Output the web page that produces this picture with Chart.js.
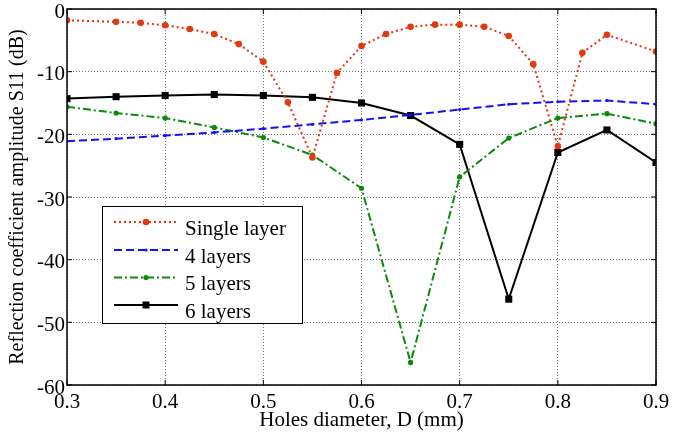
<!DOCTYPE html>
<html>
<head>
<meta charset="utf-8">
<script src="https://cdn.jsdelivr.net/npm/chart.js@4"></script>
<style>
  html, body { margin: 0; padding: 0; background: #fff; }
  #wrap { width: 673px; height: 439px; }
</style>
</head>
<body>
<div id="wrap"><canvas id="grafico" width="673" height="439"></canvas></div>
<script>
// ----------- DATOS -----------
const xSingle = [0.3, 0.35, 0.375, 0.4, 0.425, 0.45, 0.475, 0.5, 0.525, 0.55, 0.575, 0.6,
                 0.625, 0.65, 0.675, 0.7, 0.725, 0.75, 0.775, 0.8, 0.825, 0.85, 0.9];
const ySingle = [-1.8, -2.05, -2.2, -2.6, -3.2, -4.0, -5.6, -8.4, -14.9, -23.7, -10.2, -5.9,
                 -4.0, -2.85, -2.5, -2.5, -2.85, -4.3, -8.8, -21.9, -7.0, -4.1, -6.8];

const xLayers = [0.3, 0.35, 0.4, 0.45, 0.5, 0.55, 0.6, 0.65, 0.7, 0.75, 0.8, 0.85, 0.9];
const y4 = [-21.1, -20.7, -20.2, -19.7, -19.1, -18.4, -17.7, -16.9, -16.05, -15.2, -14.8, -14.6, -15.2];
const y5 = [-15.6, -16.6, -17.4, -18.9, -20.5, -23.3, -28.6, -56.4, -26.8, -20.6, -17.4, -16.7, -18.3];
const y6 = [-14.3, -14.0, -13.8, -13.65, -13.8, -14.1, -15.0, -17.0, -21.6, -46.3, -22.9, -19.3, -24.5];

const etiquetas = ["Single layer", "4 layers", "5 layers", "6 layers"];
const xTicks = [0.3, 0.4, 0.5, 0.6, 0.7, 0.8, 0.9];
const yTicks = [0, -10, -20, -30, -40, -50, -60];

const fuente = "'Liberation Serif', 'Times New Roman', serif";

const puntos = (xs, ys) => xs.map((x, i) => ({ x: x, y: ys[i] }));

// ----------- MARCO + LEYENDA -----------
const marco = {
    id: "marco",
    afterDraw(chart) {
        const ctx = chart.ctx;
        const a = chart.chartArea;
        const sx = chart.scales.x, sy = chart.scales.y;
        ctx.save();
        ctx.strokeStyle = "#000";
        ctx.lineWidth = 1.5;
        ctx.setLineDash([]);
        ctx.strokeRect(a.left, a.top, a.right - a.left, a.bottom - a.top);
        // marcas hacia dentro
        ctx.lineWidth = 1;
        ctx.beginPath();
        xTicks.forEach(v => {
            const px = sx.getPixelForValue(v);
            ctx.moveTo(px, a.bottom); ctx.lineTo(px, a.bottom - 5);
            ctx.moveTo(px, a.top); ctx.lineTo(px, a.top + 5);
        });
        yTicks.forEach(v => {
            const py = sy.getPixelForValue(v);
            ctx.moveTo(a.left, py); ctx.lineTo(a.left + 5, py);
            ctx.moveTo(a.right, py); ctx.lineTo(a.right - 5, py);
        });
        ctx.stroke();

        // leyenda
        const bx = 102, by = 206, bw = 200, bh = 117;
        ctx.fillStyle = "#fff";
        ctx.fillRect(bx, by, bw, bh);
        ctx.lineWidth = 1;
        ctx.strokeStyle = "#000";
        ctx.strokeRect(bx + 0.5, by + 0.5, bw, bh);
        const filas = [222, 250, 277.5, 305];
        chart.data.datasets.forEach((ds, i) => {
            const yy = filas[i];
            ctx.save();
            ctx.strokeStyle = ds.borderColor;
            ctx.lineWidth = ds.borderWidth;
            ctx.setLineDash(ds.borderDash || []);
            ctx.beginPath();
            ctx.moveTo(114, yy); ctx.lineTo(178, yy);
            ctx.stroke();
            ctx.setLineDash([]);
            ctx.fillStyle = ds.pointBackgroundColor;
            if (ds.pointStyle === "rect") {
                ctx.fillRect(146 - 3.5, yy - 3.5, 7, 7);
            } else {
                ctx.beginPath();
                ctx.arc(146, yy, ds.pointRadius, 0, Math.PI * 2);
                ctx.fill();
            }
            ctx.restore();
            ctx.fillStyle = "#000";
            ctx.font = "21px " + fuente;
            ctx.textBaseline = "alphabetic";
            ctx.fillText(etiquetas[i], 185, yy + 12.5);
        });
        ctx.restore();
    }
};

new Chart(document.getElementById("grafico"), {
    type: "line",
    data: {
        datasets: [
            {
                label: etiquetas[0],
                data: puntos(xSingle, ySingle),
                borderColor: "#e8300f",
                borderWidth: 2,
                borderDash: [2, 3],
                pointRadius: 3.3,
                pointBorderWidth: 0,
                pointBackgroundColor: "#e03a12",
                pointStyle: "circle"
            },
            {
                label: etiquetas[1],
                data: puntos(xLayers, y4),
                borderColor: "#1010ff",
                borderWidth: 2,
                borderDash: [8, 4],
                pointRadius: 1.6,
                pointBorderWidth: 0,
                pointBackgroundColor: "#1010ff",
                pointStyle: "circle"
            },
            {
                label: etiquetas[2],
                data: puntos(xLayers, y5),
                borderColor: "#0a8a0a",
                borderWidth: 2,
                borderDash: [8, 3, 2, 3],
                pointRadius: 2.6,
                pointBorderWidth: 0,
                pointBackgroundColor: "#0a8a0a",
                pointStyle: "circle"
            },
            {
                label: etiquetas[3],
                data: puntos(xLayers, y6),
                borderColor: "#000",
                borderWidth: 2,
                pointRadius: 5,
                pointBorderWidth: 0,
                pointBackgroundColor: "#000",
                pointStyle: "rect"
            }
        ]
    },
    options: {
        responsive: false,
        animation: false,
        layout: { padding: { top: 9, right: 17, left: 0, bottom: 0 } },
        plugins: { legend: { display: false }, tooltip: { enabled: false } },
        scales: {
            x: {
                type: "linear",
                min: 0.3, max: 0.9,
                afterFit: s => { s.height = 54; s.paddingLeft = 0; s.paddingRight = 0; },
                afterBuildTicks: s => { s.ticks = xTicks.map(v => ({ value: v })); },
                grid: { color: "#777", lineWidth: 1, drawTicks: false },
                border: { display: false, dash: [1, 2] },
                ticks: {
                    padding: 5,
                    color: "#000",
                    font: { family: fuente, size: 21 },
                    callback: v => v.toFixed(1)
                },
                title: {
                    display: true,
                    text: "Holes diameter, D (mm)",
                    color: "#000",
                    font: { family: fuente, size: 21 },
                    padding: { top: 7, bottom: 6 }
                }
            },
            y: {
                min: -60, max: 0,
                afterFit: s => { s.width = 67; s.paddingTop = 0; s.paddingBottom = 0; },
                afterBuildTicks: s => { s.ticks = yTicks.map(v => ({ value: v })); },
                grid: { color: "#777", lineWidth: 1, drawTicks: false },
                border: { display: false, dash: [1, 2] },
                ticks: {
                    padding: 2,
                    labelOffset: 3,
                    color: "#000",
                    font: { family: fuente, size: 21 },
                    callback: v => String(v)
                },
                title: {
                    display: true,
                    text: "Reflection coefficient amplitude S11 (dB)",
                    color: "#000",
                    font: { family: fuente, size: 20 },
                    padding: { top: 6, bottom: 0 }
                }
            }
        }
    },
    plugins: [marco]
});
</script>
</body>
</html>
